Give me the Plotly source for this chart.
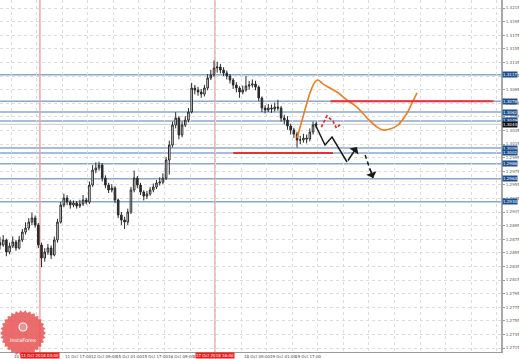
import math
import plotly.graph_objects as go

# ---------------- data ----------------
# 2-hour candles, x = hour index from 10 Oct 02:00
bar_x = [2 * k for k in range(100)]
first_open = 1.28700
closes = [
    1.28665, 1.28739, 1.28562, 1.28650, 1.28709, 1.28621, 1.28739, 1.28856, 1.28915, 1.29003,
    1.29062, 1.28959, 1.28665, 1.28474, 1.28562, 1.28621, 1.28518, 1.28739, 1.29003, 1.29253,
    1.29356, 1.29297, 1.29253, 1.29283, 1.29239, 1.29268, 1.29327, 1.29297, 1.29547, 1.29768,
    1.29797, 1.29841, 1.29650, 1.29547, 1.29474, 1.29503, 1.29327, 1.29106, 1.29032, 1.29003,
    1.29150, 1.29474, 1.29650, 1.29547, 1.29444, 1.29385, 1.29415, 1.29474, 1.29518, 1.29577,
    1.29591, 1.29650, 1.29915, 1.30135, 1.30430, 1.30532, 1.30283, 1.30430, 1.30503, 1.30621,
    1.30974, 1.30944, 1.30915, 1.30885, 1.30974, 1.31121, 1.31165, 1.31268, 1.31283, 1.31238,
    1.31194, 1.31150, 1.31091, 1.31018, 1.30974, 1.30915, 1.30944, 1.31003, 1.31018, 1.31033,
    1.30988, 1.30827, 1.30680, 1.30650, 1.30680, 1.30665, 1.30694, 1.30680, 1.30532, 1.30503,
    1.30415, 1.30356, 1.30297, 1.30209, 1.30209, 1.30238, 1.30224, 1.30326, 1.30430, 1.30444,
]
highs = [
    1.28780, 1.28810, 1.28760, 1.28700, 1.28790, 1.28740, 1.28800, 1.28900, 1.29000, 1.29060,
    1.29140, 1.29100, 1.28990, 1.28700, 1.28620, 1.28680, 1.28660, 1.28790, 1.29050, 1.29300,
    1.29420, 1.29400, 1.29330, 1.29320, 1.29310, 1.29330, 1.29400, 1.29360, 1.29600, 1.29840,
    1.29880, 1.29890, 1.29870, 1.29690, 1.29580, 1.29560, 1.29530, 1.29350, 1.29150, 1.29080,
    1.29200, 1.29520, 1.29760, 1.29680, 1.29580, 1.29470, 1.29460, 1.29520, 1.29570, 1.29620,
    1.29660, 1.29720, 1.29960, 1.30200, 1.30480, 1.30620, 1.30560, 1.30480, 1.30560, 1.30680,
    1.31050, 1.31020, 1.30990, 1.30960, 1.31020, 1.31180, 1.31240, 1.31380, 1.31360, 1.31330,
    1.31280, 1.31230, 1.31180, 1.31120, 1.31060, 1.31000, 1.31010, 1.31150, 1.31080, 1.31100,
    1.31080, 1.31010, 1.30850, 1.30720, 1.30740, 1.30730, 1.30760, 1.30800, 1.30710, 1.30580,
    1.30560, 1.30450, 1.30390, 1.30330, 1.30270, 1.30300, 1.30290, 1.30380, 1.30480, 1.30480,
]
lows = [
    1.28600, 1.28640, 1.28500, 1.28530, 1.28620, 1.28580, 1.28600, 1.28710, 1.28820, 1.28880,
    1.28960, 1.28920, 1.28620, 1.28340, 1.28420, 1.28520, 1.28460, 1.28500, 1.28700, 1.28980,
    1.29220, 1.29250, 1.29200, 1.29220, 1.29200, 1.29210, 1.29240, 1.29260, 1.29270, 1.29520,
    1.29720, 1.29760, 1.29600, 1.29500, 1.29430, 1.29440, 1.29280, 1.29060, 1.28960, 1.28900,
    1.28960, 1.29120, 1.29440, 1.29500, 1.29400, 1.29320, 1.29340, 1.29390, 1.29440, 1.29490,
    1.29540, 1.29560, 1.29620, 1.29700, 1.30100, 1.30380, 1.30220, 1.30250, 1.30400, 1.30470,
    1.30600, 1.30880, 1.30860, 1.30830, 1.30850, 1.30940, 1.31090, 1.31140, 1.31200, 1.31190,
    1.31150, 1.31100, 1.31040, 1.30960, 1.30910, 1.30830, 1.30880, 1.30920, 1.30950, 1.30980,
    1.30940, 1.30780, 1.30620, 1.30600, 1.30620, 1.30610, 1.30630, 1.30640, 1.30480, 1.30440,
    1.30360, 1.30290, 1.30240, 1.30100, 1.30150, 1.30170, 1.30160, 1.30190, 1.30290, 1.30380,
]
opens = [first_open] + closes[:-1]

# horizontal support / resistance levels
level_prices = [1.3117, 1.3078, 1.3062, 1.3049, 1.3009, 1.3002, 1.2986, 1.2964, 1.2930]
level_labels = ["1.3117", "1.3078", "1.3062", "1.3049", "1.3009", "1.3002", "1.2986", "1.2964", "1.2930"]
current_price = 1.3044
current_label = "1.3044"

# red horizontal segments: (x_start, x_end, price)
red_seg_x0 = [207.0, 146.0]
red_seg_x1 = [309.0, 208.5]
red_seg_y = [1.3078, 1.3002]

# vertical time markers
vline_x = [25, 134.6]
vline_labels = ["11 Oct 2018 03:00", "17 Oct 2018 16:00"]

# time axis labels
time_tick_x = [7, 23, 39, 55, 71, 87, 103, 119, 135, 151, 167, 183, 199, 215, 231, 247, 263, 279, 295, 311]
time_label_x = [7, 39, 55, 71, 87, 103, 119, 151, 167, 183]
time_labels = ["10 Oct 09:00", "11 Oct 17:00", "12 Oct 09:00", "15 Oct 01:00", "15 Oct 17:00",
               "16 Oct 09:00", "17 Oct 01:00", "18 Oct 09:00", "19 Oct 01:00", "19 Oct 17:00"]

# price axis ticks
price_ticks = [1.2715, 1.2735, 1.2755, 1.2775, 1.2795, 1.2815, 1.2835, 1.2855, 1.2875, 1.2895,
               1.2915, 1.2935, 1.2955, 1.2975, 1.2995, 1.3015, 1.3035, 1.3055, 1.3075, 1.3095,
               1.3115, 1.3135, 1.3155, 1.3175, 1.3195, 1.3215]
price_tick_text = ["%.4f" % v for v in price_ticks]

# orange forecast curve
orange_x = [186.0, 189.7, 194.1, 197.2, 199.1, 201.6, 205.4, 211.0, 217.3, 223.5,
            229.8, 236.1, 239.8, 244.2, 249.2, 254.9, 258.0, 261.1]
orange_y = [1.30239, 1.30547, 1.30901, 1.31062, 1.31092, 1.31047, 1.30989, 1.30915, 1.30797, 1.30694,
            1.30533, 1.30400, 1.30356, 1.30371, 1.30430, 1.30606, 1.30753, 1.30901]

# red dashed small zigzag
redz_x = [201.2, 204.7, 208.5, 210.6, 213.2]
redz_y = [1.30400, 1.30562, 1.30488, 1.30385, 1.30444]

# black zigzag (solid) and dashed continuation
blk_x = [197.2, 203.5, 207.9, 217.3, 223.5]
blk_y = [1.30444, 1.30136, 1.30253, 1.29886, 1.30106]
blkd_x = [228.6, 233.6]
blkd_y = [1.29989, 1.29650]

# ---------------- figure ----------------
X_MAX = 313.7
Y_MIN, Y_MAX = 1.27092, 1.32268
FONT = "DejaVu Sans"

fig = go.Figure()

fig.add_trace(go.Candlestick(
    x=bar_x, open=opens, high=highs, low=lows, close=closes,
    increasing=dict(line=dict(color="#2a2a2a", width=1), fillcolor="#ffffff"),
    decreasing=dict(line=dict(color="#2a2a2a", width=1), fillcolor="#2a2a2a"),
    whiskerwidth=0, showlegend=False, hoverinfo="skip",
))

shapes = []
for p in level_prices:
    shapes.append(dict(type="line", xref="paper", yref="y", x0=0, x1=1, y0=p, y1=p,
                       line=dict(color="#8aa8c8", width=1.5), layer="below"))
shapes.append(dict(type="line", xref="paper", yref="y", x0=0, x1=1, y0=current_price, y1=current_price,
                   line=dict(color="#c8c8c8", width=1), layer="below"))
for x0, x1, yv in zip(red_seg_x0, red_seg_x1, red_seg_y):
    shapes.append(dict(type="line", xref="x", yref="y", x0=x0, x1=x1, y0=yv, y1=yv,
                       line=dict(color="#e8303a", width=2)))
for xv in vline_x:
    shapes.append(dict(type="line", xref="x", yref="paper", x0=xv, x1=xv, y0=0, y1=1,
                       line=dict(color="#f5a3a3", width=1.5), layer="below"))

# InstaForex seal (decorative)
PW, PH = 501.0, 352.0
cx, cy, r_out, r_in, n = 23.0, 333.0, 23.0, 20.5, 30
pts = []
for i in range(2 * n):
    r = r_out if i % 2 == 0 else r_in
    a = math.pi * i / n
    px = cx + r * math.cos(a)
    py = cy + r * math.sin(a)
    pts.append((px / PW, (PH - py) / PH))
path = "M " + " L ".join("%.5f,%.5f" % q for q in pts) + " Z"
shapes.append(dict(type="path", xref="paper", yref="paper", path=path,
                   fillcolor="rgba(232,82,82,0.85)", line=dict(width=0)))
shapes.append(dict(type="circle", xref="paper", yref="paper",
                   x0=(cx - 4) / PW, x1=(cx + 4) / PW, y0=(PH - 331) / PH, y1=(PH - 323) / PH,
                   line=dict(color="white", width=1.2), fillcolor="rgba(255,255,255,0.25)"))

fig.add_trace(go.Scatter(x=orange_x, y=orange_y, mode="lines", line=dict(color="#f07c1e", width=1.6, shape="spline"),
                         showlegend=False, hoverinfo="skip"))
fig.add_trace(go.Scatter(x=redz_x, y=redz_y, mode="lines", line=dict(color="#e83030", width=1.8, dash="3px,2px"),
                         showlegend=False, hoverinfo="skip"))
fig.add_trace(go.Scatter(x=blk_x[:-1], y=blk_y[:-1], mode="lines", line=dict(color="#1a1a1a", width=1.5),
                         showlegend=False, hoverinfo="skip"))
fig.add_trace(go.Scatter(x=blkd_x, y=blkd_y, mode="lines", line=dict(color="#1a1a1a", width=1.5, dash="4px,3px"),
                         showlegend=False, hoverinfo="skip"))

annotations = []
# arrows
annotations.append(dict(x=blk_x[-1], y=blk_y[-1], ax=blk_x[-2], ay=blk_y[-2], xref="x", yref="y",
                        axref="x", ayref="y", showarrow=True, arrowhead=1, arrowsize=1.2,
                        arrowwidth=1.5, arrowcolor="#1a1a1a", text=""))
dx0 = blkd_x[0] + 0.55 * (blkd_x[1] - blkd_x[0])
dy0 = blkd_y[0] + 0.55 * (blkd_y[1] - blkd_y[0])
annotations.append(dict(x=blkd_x[-1], y=blkd_y[-1], ax=dx0, ay=dy0, xref="x", yref="y",
                        axref="x", ayref="y", showarrow=True, arrowhead=1, arrowsize=1.2,
                        arrowwidth=1.5, arrowcolor="#1a1a1a", text=""))

# level labels on price axis
for p, t in zip(level_prices, level_labels):
    annotations.append(dict(x=1, y=p, xref="paper", yref="y", xanchor="left", yanchor="middle",
                            text=t, showarrow=False, bgcolor="#1f4f8f", borderpad=0, xshift=1,
                            font=dict(family=FONT, size=4, color="white")))
annotations.append(dict(x=1, y=current_price, xref="paper", yref="y", xanchor="left", yanchor="middle",
                        text=current_label, showarrow=False, bgcolor="#111111", borderpad=0, xshift=1,
                        font=dict(family=FONT, size=4, color="white")))

# time labels
for xv, t in zip(time_label_x, time_labels):
    annotations.append(dict(x=xv, y=0, xref="x", yref="paper", xanchor="left", yanchor="top",
                            text=t, showarrow=False, xshift=1, yshift=0,
                            font=dict(family=FONT, size=4, color="#444")))
for xv, t in zip(vline_x, vline_labels):
    annotations.append(dict(x=xv, y=0, xref="x", yref="paper", xanchor="center", yanchor="top",
                            text=t, showarrow=False, bgcolor="#ee1c1c", borderpad=0,
                            font=dict(family=FONT, size=4, color="white")))

annotations.append(dict(x=cx / PW, y=(PH - 340) / PH, xref="paper", yref="paper", text="InstaForex",
                        showarrow=False, xanchor="center", yanchor="middle",
                        font=dict(family=FONT, size=5, color="white")))

fig.update_layout(
    width=519, height=359,
    margin=dict(l=0, r=18, t=0, b=7),
    paper_bgcolor="white", plot_bgcolor="white",
    shapes=shapes, annotations=annotations,
    xaxis=dict(range=[0, X_MAX], tickvals=time_tick_x, showticklabels=False, showgrid=True,
               gridcolor="#dcdcdc", griddash="dot", gridwidth=1, zeroline=False,
               rangeslider=dict(visible=False), showline=True, linecolor="#9a9a9a", linewidth=1,
               ticks="", fixedrange=True),
    yaxis=dict(range=[Y_MIN, Y_MAX], side="right", tickvals=price_ticks, ticktext=price_tick_text,
               tickfont=dict(family=FONT, size=4, color="#555"), showgrid=True,
               gridcolor="#dcdcdc", griddash="dot", gridwidth=1, zeroline=False,
               showline=True, linecolor="#a8a8a8", linewidth=2, ticks="outside", ticklen=2,
               tickcolor="#999", fixedrange=True),
)

fig.write_html("out.html")
